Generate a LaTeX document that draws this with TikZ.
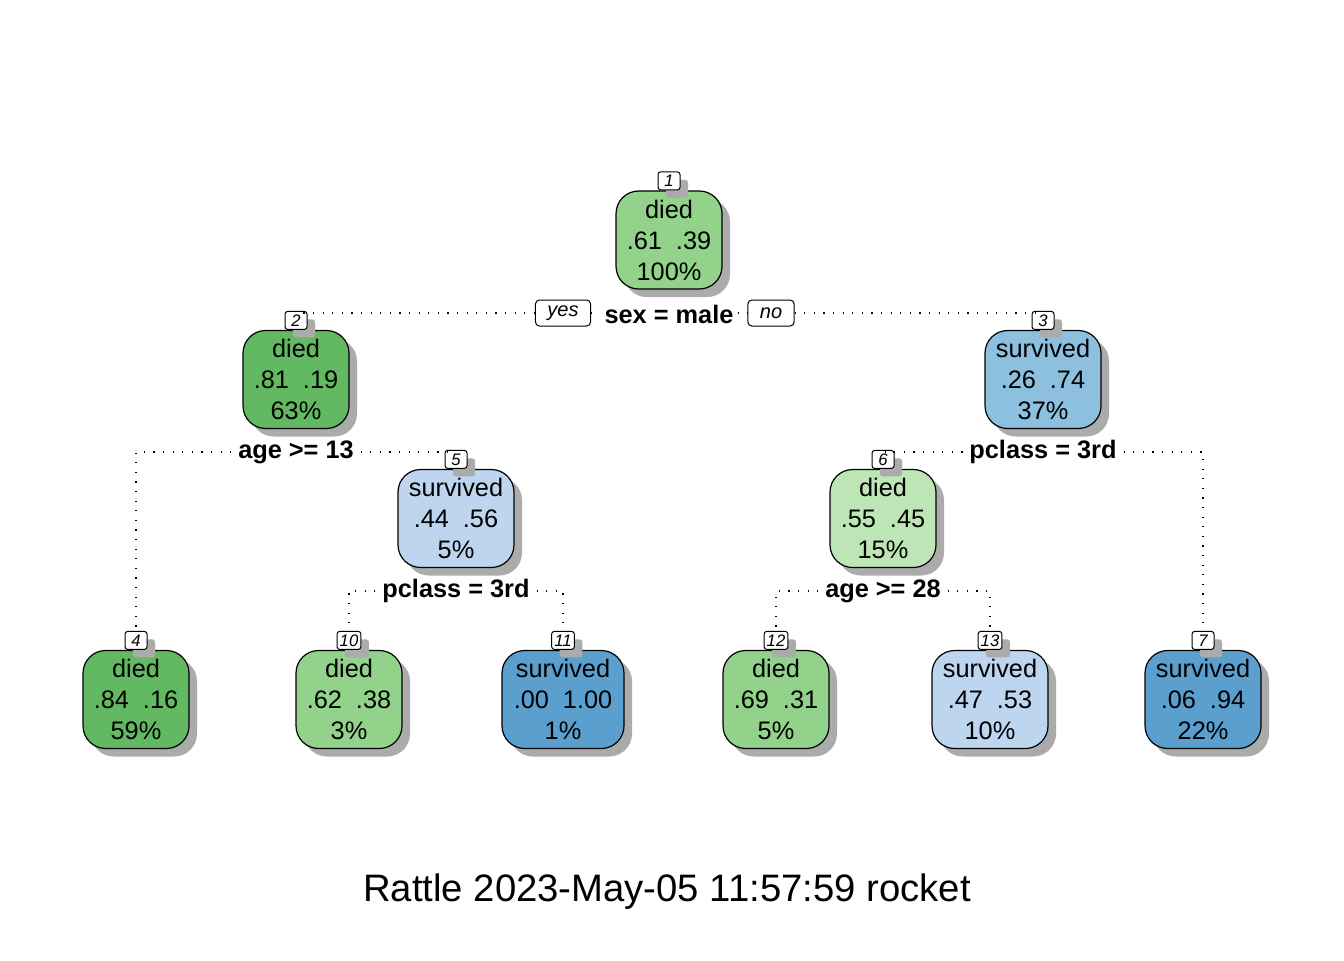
\documentclass[tikz,border=0pt]{standalone}
\usepackage{fontspec}
\setmainfont{Liberation Sans}
\usetikzlibrary{shadows}
\definecolor{gDark}{RGB}{98,185,98}
\definecolor{gMid}{RGB}{146,210,138}
\definecolor{gLight}{RGB}{189,229,181}
\definecolor{bLight}{RGB}{189,213,238}
\definecolor{bMid}{RGB}{141,192,222}
\definecolor{bDark}{RGB}{90,159,206}
\newcommand\tv[2]{#1\hspace{0.55em}#2}
\begin{document}
\begin{tikzpicture}[x=0.75pt,y=-0.75pt,
  shadowed/.style={drop shadow={shadow xshift=6pt,shadow yshift=-6pt,fill=black!33,opacity=1}},
  tnode/.style={draw=black,line width=0.9pt,rounded corners=17pt,minimum height=73.5pt,
    minimum width=79.5pt,align=center,inner sep=0pt,
    font=\fontsize{19}{23.25}\selectfont,shadowed},
  wide/.style={minimum width=87pt},
  wider/.style={minimum width=91.5pt},
  numbox/.style={draw=black,line width=0.75pt,fill=white,rounded corners=2pt,anchor=south,
    minimum height=13.5pt,minimum width=16.5pt,inner xsep=2pt,inner ysep=0pt,
    font=\fontsize{12.5}{13}\itshape,shadowed},
  split/.style={font=\fontsize{19}{22}\bfseries,inner xsep=5pt,inner ysep=1pt},
  yn/.style={draw=black,line width=0.75pt,fill=white,rounded corners=3pt,
    minimum height=19.5pt,inner xsep=9pt,inner ysep=0pt,font=\fontsize{15}{16}\itshape},
  conn/.style={line width=0.9pt,dash pattern=on 0.9pt off 6.3pt},
]
\useasboundingbox[fill=white] (0,0) rectangle (1344,960);

% tree nodes
\node[tnode,fill=gMid] (n1) at (669,240) {died\\\tv{.61}{.39}\\100\%};
\node[tnode,fill=gDark] (n2) at (296,379.5) {died\\\tv{.81}{.19}\\63\%};
\node[tnode,wide,fill=bMid] (n3) at (1043,379.5) {survived\\\tv{.26}{.74}\\37\%};
\node[tnode,wide,fill=bLight] (n5) at (456,518.5) {survived\\\tv{.44}{.56}\\5\%};
\node[tnode,fill=gLight] (n6) at (883,518.5) {died\\\tv{.55}{.45}\\15\%};
\node[tnode,fill=gDark] (n4) at (136,699.5) {died\\\tv{.84}{.16}\\59\%};
\node[tnode,fill=gMid] (n10) at (349,699.5) {died\\\tv{.62}{.38}\\3\%};
\node[tnode,wider,fill=bDark] (n11) at (563,699.5) {survived\\\tv{.00}{1.00}\\1\%};
\node[tnode,fill=gMid] (n12) at (776,699.5) {died\\\tv{.69}{.31}\\5\%};
\node[tnode,wide,fill=bLight] (n13) at (990,699.5) {survived\\\tv{.47}{.53}\\10\%};
\node[tnode,wide,fill=bDark] (n7) at (1203,699.5) {survived\\\tv{.06}{.94}\\22\%};

% node numbers
\node[numbox] (n1num) at (n1.north) {1};
\node[numbox] (n2num) at (n2.north) {2};
\node[numbox] (n3num) at (n3.north) {3};
\node[numbox] (n4num) at (n4.north) {4};
\node[numbox] (n5num) at (n5.north) {5};
\node[numbox] (n6num) at (n6.north) {6};
\node[numbox] (n7num) at (n7.north) {7};
\node[numbox] (n10num) at (n10.north) {10};
\node[numbox] (n11num) at (n11.north) {11};
\node[numbox] (n12num) at (n12.north) {12};
\node[numbox] (n13num) at (n13.north) {13};

% split labels
\node[split,inner xsep=3pt] (s1) at (669,314) {sex = male};
\node[yn] (yes) at (563,313) {yes};
\node[yn] (no) at (771,313) {no};
\node[split] (s2) at (296,452) {age >= 13};
\node[split] (s3) at (1043,452) {pclass = 3rd};
\node[split] (s5) at (456,591) {pclass = 3rd};
\node[split] (s6) at (883,591) {age >= 28};

% connectors
\draw[conn] (yes.east) -- (s1.west |- yes.east);
\draw[conn] (s1.east |- no.west) -- (no.west);
\draw[conn] (yes.west) -| (n2num.north);
\draw[conn] (no.east) -| (n3num.north);
\draw[conn] (s2.west) -| (n4num.north);
\draw[conn] (s2.east) -| (n5num.north);
\draw[conn] (s3.west) -| (n6num.north);
\draw[conn] (s3.east) -| (n7num.north);
\draw[conn] (s5.west) -| (n10num.north);
\draw[conn] (s5.east) -| (n11num.north);
\draw[conn] (s6.west) -| (n12num.north);
\draw[conn] (s6.east) -| (n13num.north);

% title
\node[font=\fontsize{28.7}{34}\selectfont] (title) at (667,892) {Rattle 2023-May-05 11:57:59 rocket};
\end{tikzpicture}
\end{document}
